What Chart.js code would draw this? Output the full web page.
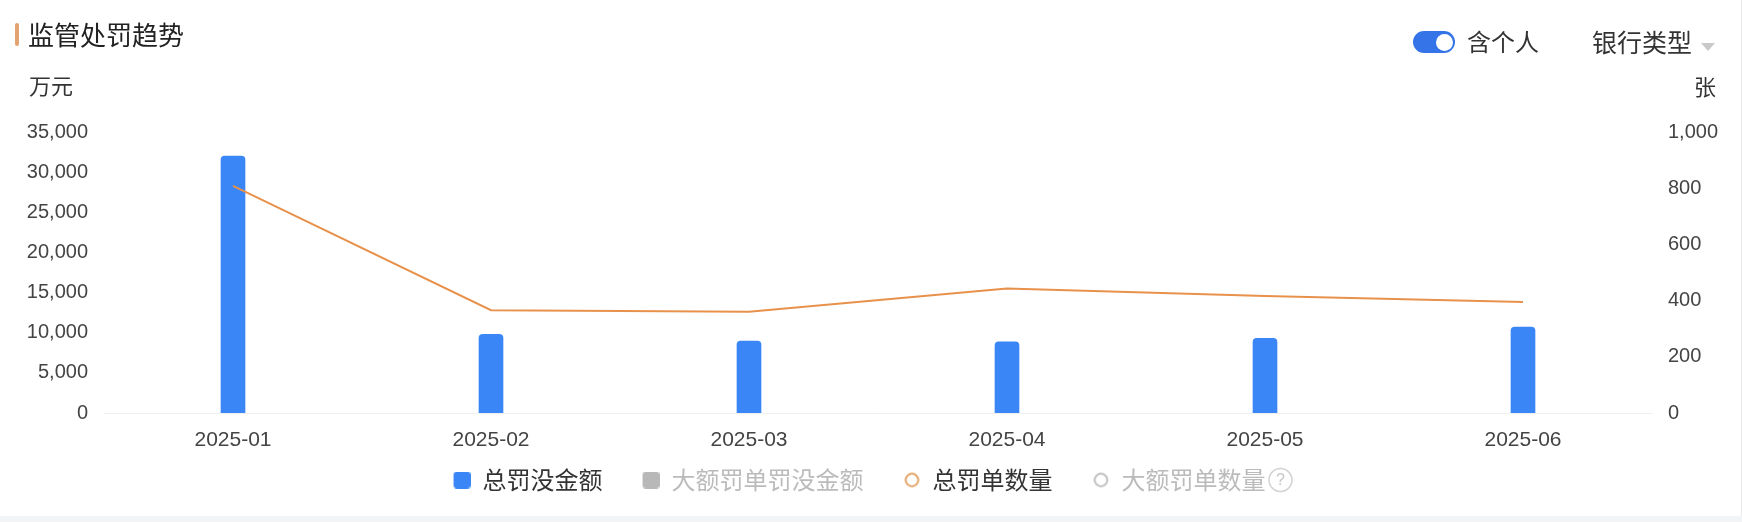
<!DOCTYPE html>
<html>
<head>
<meta charset="utf-8">
<script src="https://cdn.jsdelivr.net/npm/chart.js@4.4.1/dist/chart.umd.min.js"></script>
<style>
  html, body { margin:0; padding:0; width:1742px; height:522px; overflow:hidden; background:#f3f4f6; }
  #card { position:absolute; left:0; top:0; width:1741px; height:516px; background:#fff; border-right:1px solid #ececec; }
  #wrap { position:absolute; left:0; top:0; width:1742px; height:516px; }
  .t { position:absolute; white-space:nowrap; font-family:'Noto Sans CJK SC', sans-serif; line-height:1; color:#333; }
</style>
</head>
<body>
<div id="card"></div>
<div id="wrap"><canvas id="c"></canvas></div>
<div id="mask" style="position:absolute;left:0;top:108px;width:27px;height:320px;background:#fff;"></div>
<div style="position:absolute;left:15px;top:23px;width:4px;height:23px;background:#E3A372;border-radius:2px;"></div>
<div class="t" style="left:28px;top:21px;font-size:26px;color:#222;">监管处罚趋势</div>
<div class="t" style="left:29px;top:73px;font-size:22px;">万元</div>
<div style="position:absolute;left:1413px;top:31px;width:42px;height:22px;border-radius:11px;background:#3474E8;"></div>
<div style="position:absolute;left:1436px;top:33.5px;width:17px;height:17px;border-radius:50%;background:#fff;"></div>
<div class="t" style="left:1467px;top:29px;font-size:24px;">含个人</div>
<div class="t" style="left:1592px;top:29px;font-size:25px;">银行类型</div>
<div style="position:absolute;left:1701px;top:43px;width:0;height:0;border-left:7px solid transparent;border-right:7px solid transparent;border-top:8px solid #c9c9c9;"></div>
<div class="t" style="left:1694px;top:74px;font-size:22px;">张</div>

<script>
// ---- data ----
const categories = ['2025-01', '2025-02', '2025-03', '2025-04', '2025-05', '2025-06'];
const seriesNames = ['总罚没金额', '大额罚单罚没金额', '总罚单数量', '大额罚单数量'];
const totalFineAmount = [32000, 9800, 8950, 8870, 9300, 10700];   // 万元
const largeFineAmount = [];                                      // hidden series
const totalFineCount = [808, 366, 360, 443, 416, 395];            // 张
const largeFineCount = [];                                       // hidden series
const amountTicks = [0, 5000, 10000, 15000, 20000, 25000, 30000, 35000];
const countTicks = [0, 200, 400, 600, 800, 1000];

// ---- legend markers (marker sits at the right end of a 42px wide box) ----
const BOX_W = 42;
function squareMarker(color) {
  const c = document.createElement('canvas'); c.width = BOX_W; c.height = 17;
  const x = c.getContext('2d'); x.fillStyle = color;
  x.beginPath(); x.roundRect(BOX_W - 17, 0, 17, 17, 3.5); x.fill();
  return c;
}
function ringMarker(color) {
  const c = document.createElement('canvas'); c.width = BOX_W; c.height = 17;
  const x = c.getContext('2d'); x.strokeStyle = color; x.lineWidth = 1.8;
  x.beginPath(); x.arc(BOX_W - 8.5, 8.5, 6.3, 0, Math.PI * 2); x.stroke();
  return c;
}
const markers = [squareMarker('#3B86F6'), squareMarker('#b8b8b8'), ringMarker('#E39A55'), ringMarker('#b8b8b8')];

const tickFont = { family: "'Liberation Sans', 'Noto Sans CJK SC', sans-serif", size: 20 };
const legendFont = { family: "'Noto Sans CJK SC', sans-serif", size: 24 };

const helpIcon = {
  id: 'helpIcon',
  afterDraw(chart) {
    const lg = chart.legend; if (!lg || !lg.legendHitBoxes) return;
    const hb = lg.legendHitBoxes[3]; if (!hb) return;
    const ctx = chart.ctx;
    ctx.save();
    ctx.font = "24px 'Noto Sans CJK SC', sans-serif";
    const w = ctx.measureText(seriesNames[3]).width;
    const cx = hb.left + BOX_W + 12 + w + 3 + 12;
    const cy = hb.top + 12;
    ctx.strokeStyle = '#d2d2d2'; ctx.lineWidth = 1.5;
    ctx.beginPath(); ctx.arc(cx, cy, 11.5, 0, Math.PI * 2); ctx.stroke();
    ctx.fillStyle = '#c6c6c6'; ctx.font = "16px 'Liberation Sans', sans-serif";
    ctx.textAlign = 'center'; ctx.textBaseline = 'middle';
    ctx.fillText('?', cx, cy + 1);
    ctx.restore();
  }
};

new Chart(document.getElementById('c'), {
  type: 'bar',
  data: {
    labels: categories,
    datasets: [
      { type: 'bar', label: seriesNames[0], data: totalFineAmount, yAxisID: 'y',
        backgroundColor: '#3B86F6', barThickness: 24, borderRadius: 4, borderSkipped: 'start', order: 2 },
      { type: 'bar', label: seriesNames[1], data: largeFineAmount, yAxisID: 'y',
        backgroundColor: '#b8b8b8', barThickness: 24, hidden: true, order: 2 },
      { type: 'line', label: seriesNames[2], data: totalFineCount, yAxisID: 'y1',
        borderColor: '#E8914B', borderWidth: 2, pointRadius: 0, tension: 0, fill: false, order: 1 },
      { type: 'line', label: seriesNames[3], data: largeFineCount, yAxisID: 'y1',
        borderColor: '#b8b8b8', borderWidth: 2, pointRadius: 0, hidden: true, order: 1 }
    ]
  },
  options: {
    responsive: true,
    maintainAspectRatio: false,
    animation: false,
    layout: { padding: { top: 132, bottom: 14, left: 0, right: 0 } },
    plugins: {
      tooltip: { enabled: false },
      title: { display: false },
      legend: {
        position: 'bottom',
        align: 'center',
        onClick: () => {},
        labels: {
          usePointStyle: true,
          boxWidth: BOX_W,
          boxHeight: 16,
          pointStyleWidth: BOX_W,
          padding: 15,
          font: legendFont,
          color: '#333',
          generateLabels(chart) {
            return chart.data.datasets.map((ds, i) => ({
              text: seriesNames[i] + (i === 3 ? '\u3000\u3000' : ''),
              fillStyle: 'rgba(0,0,0,0)',
              strokeStyle: 'rgba(0,0,0,0)',
              lineWidth: 0,
              pointStyle: markers[i],
              hidden: false,
              datasetIndex: i,
              fontColor: ds.hidden ? '#bbbbbb' : '#333333'
            }));
          }
        }
      }
    },
    scales: {
      x: {
        offset: true,
        grid: { display: false, drawTicks: false },
        border: { display: true, color: '#efefef', width: 1 },
        ticks: { font: { family: tickFont.family, size: 21 }, color: '#444', padding: 15, maxRotation: 0 },
        afterFit(s) { s.height = 40; }
      },
      y: {
        position: 'left',
        min: 0, max: 35000,
        grid: { display: false, drawTicks: false },
        border: { display: false },
        ticks: { font: tickFont, color: '#444', padding: 16, callback: v => v.toLocaleString('en-US') },
        afterBuildTicks(s) { s.ticks = amountTicks.map(v => ({ value: v })); },
        afterFit(s) { s.width = 104; }
      },
      y1: {
        position: 'right',
        min: 0, max: 1000,
        grid: { display: false, drawTicks: false },
        border: { display: false },
        ticks: { font: tickFont, color: '#444', padding: 16, callback: v => v.toLocaleString('en-US') },
        afterBuildTicks(s) { s.ticks = countTicks.map(v => ({ value: v })); },
        afterFit(s) { s.width = 90; }
      }
    }
  },
  plugins: [helpIcon]
});
</script>
</body>
</html>
